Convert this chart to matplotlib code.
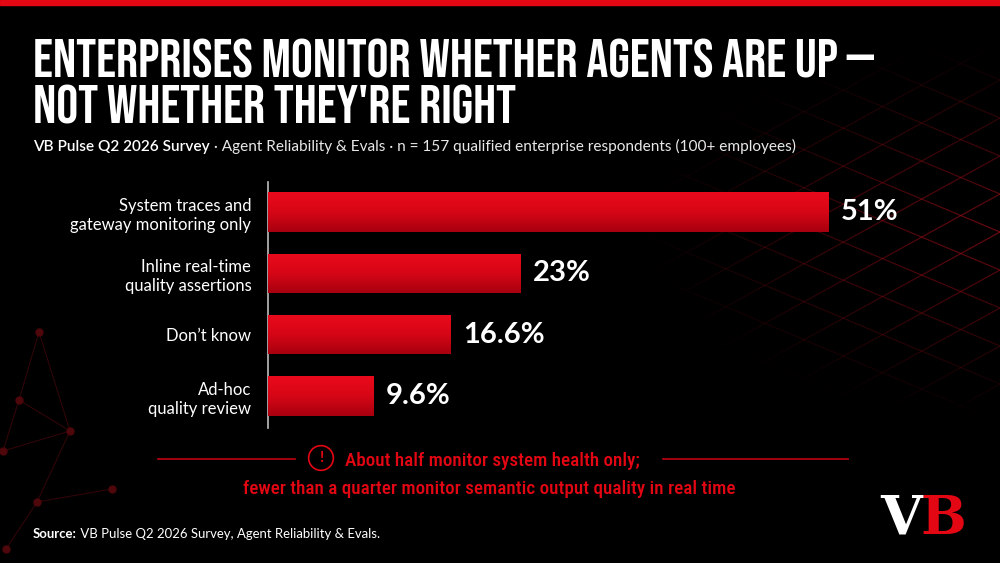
import os
import matplotlib
matplotlib.use("Agg")
import matplotlib.pyplot as plt
import numpy as np
from matplotlib import font_manager
from matplotlib.font_manager import FontProperties
from matplotlib.colors import LinearSegmentedColormap, to_rgba
from matplotlib.lines import Line2D
from matplotlib.collections import LineCollection

# data
categories = ["System traces and\ngateway monitoring only",
              "Inline real-time\nquality assertions",
              "Don\u2019t know",
              "Ad-hoc\nquality review"]
shares = [51, 23, 16.6, 9.6]
share_labels = ["51%", "23%", "16.6%", "9.6%"]

title_lines = ["ENTERPRISES MONITOR WHETHER AGENTS ARE UP \u2014",
               "NOT WHETHER THEY'RE RIGHT"]
subtitle_lead = "VB Pulse Q2 2026 Survey"
subtitle_rest = " \u00b7 Agent Reliability & Evals \u00b7 n = 157 qualified enterprise respondents (100+ employees)"
callout = ["About half monitor system health only;",
           "fewer than a quarter monitor semantic output quality in real time"]
source_lead = "Source:"
source_rest = " VB Pulse Q2 2026 Survey, Agent Reliability & Evals."

RED = "#e30613"
W, H = 1000, 563

available = {f.name for f in font_manager.fontManager.ttflist}


def pick(*names):
    for n in names:
        if n in available:
            return n
    return "DejaVu Sans"


def font_file(keys, fallback):
    # look for condensed cuts by file name, else fall back to a family
    for k in keys:
        for f in font_manager.fontManager.ttflist:
            base = os.path.basename(f.fname).replace("-", "").replace("_", "").lower()
            if base.startswith(k + ".") or base == k:
                return dict(fontproperties=FontProperties(fname=f.fname))
    return dict(family=fallback, weight="bold")


body = pick("Lato", "Open Sans", "Noto Sans")
slab = pick("DejaVu Serif", "Liberation Serif")
title_font = font_file(["bebasneueregular", "notosansextracondensedbold", "robotocondensedbold",
                        "notosanscondensedbold", "liberationsansnarrowbold", "dejavusanscondensedbold"],
                       pick("Roboto", "DejaVu Sans"))
call_font = font_file(["notosanscondensedsemibold", "robotocondensedmedium", "notosanscondensedmedium",
                       "robotocondensedregular", "notosanscondensed", "dejavusanscondensed"],
                      pick("Roboto", "DejaVu Sans"))


def fx(px):
    return px / W


def fy(py):
    return 1 - py / H


fig = plt.figure(figsize=(10, 5.63), dpi=100, facecolor="black")
renderer = fig.canvas.get_renderer()


def fit(txt, width_px):
    w = txt.get_window_extent(renderer).width
    txt.set_fontsize(txt.get_fontsize() * width_px / w)


# background decoration: faint perspective grid top right
segs, cols = [], []
for slope in (0.42, -0.55):
    for off in np.arange(-700, 900, 38):
        xs = np.linspace(540, 1000, 60)
        ys = 210 + off + slope * (xs - 1000)
        for i in range(len(xs) - 1):
            xm, ym = (xs[i] + xs[i + 1]) / 2, (ys[i] + ys[i + 1]) / 2
            d = np.hypot((xm - 1000) / 360, (ym - 230) / 190)
            a = max(0.0, 1 - d) * 0.6
            if a > 0.01:
                segs.append([(fx(xs[i]), fy(ys[i])), (fx(xs[i + 1]), fy(ys[i + 1]))])
                cols.append(to_rgba("#b0101a", a))
fig.add_artist(LineCollection(segs, colors=cols, linewidths=0.9, transform=fig.transFigure, zorder=0))

# background decoration: network bottom left
nodes = [(39, 332), (19, 400), (70, 431), (3, 451), (112, 489), (37, 502), (6, 549)]
links = [(0, 1), (1, 3), (3, 2), (2, 5), (5, 4), (1, 2), (5, 6), (0, 2)]
for a, b in links:
    fig.add_artist(Line2D([fx(nodes[a][0]), fx(nodes[b][0])], [fy(nodes[a][1]), fy(nodes[b][1])],
                          color="#300508", lw=0.8, transform=fig.transFigure, zorder=0))
fig.add_artist(Line2D([fx(n[0]) for n in nodes], [fy(n[1]) for n in nodes], ls="none", marker="o",
                      ms=5, color="#4e070b", transform=fig.transFigure, zorder=0))

# top band
fig.add_artist(plt.Rectangle((0, fy(5)), 1, 5 / H, color=RED, transform=fig.transFigure, zorder=5))

# title
t1 = fig.text(fx(33), fy(78), title_lines[0], fontsize=38, color="white", va="baseline", **title_font)
fit(t1, 840)
t2 = fig.text(fx(33), fy(124), title_lines[1], fontsize=t1.get_fontsize(), color="white",
              va="baseline", **title_font)

# subtitle
s1 = fig.text(fx(33), fy(151), subtitle_lead, fontsize=11, family=body, weight="semibold", color="white", va="baseline")
s2 = fig.text(0, fy(151), subtitle_rest, fontsize=11, family=body, color="#e8e8e8", va="baseline")
total = s1.get_window_extent(renderer).width + s2.get_window_extent(renderer).width
scale = 760 / total
s1.set_fontsize(11 * scale)
s2.set_fontsize(11 * scale)
s2.set_x(fx(33 + s1.get_window_extent(renderer).width))

# bars
ax = fig.add_axes([fx(268), fy(428), fx(950) - fx(268), (428 - 182) / H])
ax.set_facecolor("none")
ypos = np.arange(len(shares))
bars = ax.barh(ypos, shares, height=0.64, color=RED, zorder=2)
cmap = LinearSegmentedColormap.from_list("bar", ["#ea0a1c", "#d60616", "#a8000f"])
grad = np.linspace(0, 1, 64).reshape(-1, 1)
for b in bars:
    x0, y0 = b.get_x(), b.get_y()
    im = ax.imshow(grad, cmap=cmap, aspect="auto", zorder=3,
                   extent=[x0, x0 + b.get_width(), y0 + b.get_height(), y0])
    im.set_clip_path(b)
for y, v, lab in zip(ypos, shares, share_labels):
    ax.text(v + 1.1, y, lab, va="center", ha="left", color="white", fontsize=21,
            family=body, weight="bold")
ax.set_xlim(0, 62)
ax.set_ylim(3.52, -0.49)
ax.set_yticks(ypos)
ax.set_yticklabels(categories, fontsize=12, family=body, color="white", linespacing=1.25)
ax.tick_params(axis="y", length=0, pad=12)
ax.set_xticks([])
for sp in ("top", "right", "bottom"):
    ax.spines[sp].set_visible(False)
ax.spines["left"].set_color("#bdbdbd")
ax.spines["left"].set_linewidth(1.2)

# callout
c2 = fig.text(fx(489), fy(494), callout[1], fontsize=13, color=RED, ha="center", va="baseline", **call_font)
fit(c2, 492)
c1 = fig.text(fx(345), fy(466), callout[0], fontsize=c2.get_fontsize(), color=RED, va="baseline", **call_font)
fig.text(fx(321), fy(458), "!", fontsize=11, family=body, weight="bold", color=RED, ha="center", va="center",
         bbox=dict(boxstyle="circle,pad=0.35", fc="none", ec=RED, lw=1.2))
fig.add_artist(Line2D([fx(158), fx(295)], [fy(459), fy(459)], color="#c00010", lw=1.2, transform=fig.transFigure))
fig.add_artist(Line2D([fx(663), fx(848)], [fy(459), fy(459)], color="#c00010", lw=1.2, transform=fig.transFigure))

# source
r1 = fig.text(fx(33), fy(538), source_lead, fontsize=10, family=body, weight="bold", color="white", va="baseline")
r2 = fig.text(0, fy(538), source_rest, fontsize=10, family=body, color="white", va="baseline")
total = r1.get_window_extent(renderer).width + r2.get_window_extent(renderer).width
scale = 347 / total
r1.set_fontsize(10 * scale)
r2.set_fontsize(10 * scale)
r2.set_x(fx(33 + r1.get_window_extent(renderer).width))

# logo
v = fig.text(fx(880), fy(535), "V", fontsize=42, family=slab, weight="bold", color="white", va="baseline")
fit(v, 42)
fig.text(fx(880 + v.get_window_extent(renderer).width - 2), fy(535), "B", fontsize=v.get_fontsize(),
         family=slab, weight="bold", color=RED, va="baseline")

fig.savefig("out.png", dpi=100, facecolor="black")
